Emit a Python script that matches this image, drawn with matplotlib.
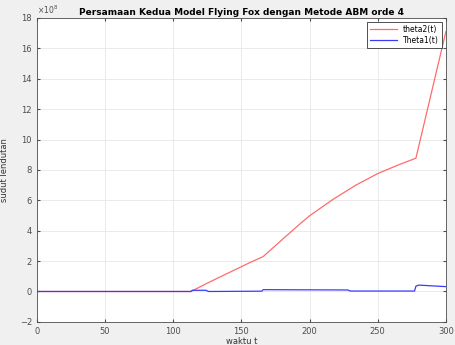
import numpy as np
import matplotlib
matplotlib.use("Agg")
import matplotlib.pyplot as plt

# data (values in units of 1e8)
t_theta2 = [0, 113, 125, 140, 155, 166, 181, 193, 200, 217, 234, 250, 266, 278, 300]
theta2 = [0, 0, 0.55, 1.2, 1.85, 2.3, 3.5, 4.45, 4.98, 6.05, 7.0, 7.76, 8.36, 8.77, 17.1]

t_theta1 = [0, 113, 114, 124, 126, 165, 166, 228, 230, 277, 278, 280, 300]
theta1 = [0, 0, 0.08, 0.08, 0.0, 0.02, 0.12, 0.1, 0.03, 0.03, 0.35, 0.42, 0.32]

fig = plt.figure(figsize=(4.55, 3.45), dpi=100, facecolor="#f0f0f0")
ax = fig.add_axes([0.081, 0.067, 0.899, 0.881])
ax.plot(t_theta2, theta2, color="#ff6b6b", lw=0.9, label="theta2(t)")
ax.plot(t_theta1, theta1, color="#3a3aff", lw=0.9, label="Theta1(t)")

ax.set_xlim(0, 300)
ax.set_ylim(-2, 18)
ax.set_xticks(np.arange(0, 301, 50))
ax.set_yticks(np.arange(-2, 19, 2))
ax.grid(True, color="#e6e6e6", lw=0.6)
ax.tick_params(direction="in", labelsize=6, colors="#4d4d4d", length=2, top=True, right=True,
               labeltop=False, labelright=False)
for s in ax.spines.values():
    s.set_color("#4d4d4d")
    s.set_linewidth(0.6)
ax.text(0.0, 1.005, r"$\times10^{8}$", transform=ax.transAxes, fontsize=5.5, color="#4d4d4d",
        va="bottom", ha="left")
ax.set_title("Persamaan Kedua Model Flying Fox dengan Metode ABM orde 4", fontsize=6.5,
             fontweight="bold", pad=2)
ax.set_xlabel("waktu t", fontsize=6, color="#333333", labelpad=1)
ax.set_ylabel("sudut lendutan", fontsize=6, color="#333333", labelpad=8)
leg = ax.legend(loc="upper right", fontsize=5.5, fancybox=False, framealpha=1,
                handlelength=3.5, borderpad=0.4, labelspacing=0.3)
leg.get_frame().set_edgecolor("#333333")
leg.get_frame().set_linewidth(0.6)

fig.savefig("out.png", dpi=100, facecolor=fig.get_facecolor())
